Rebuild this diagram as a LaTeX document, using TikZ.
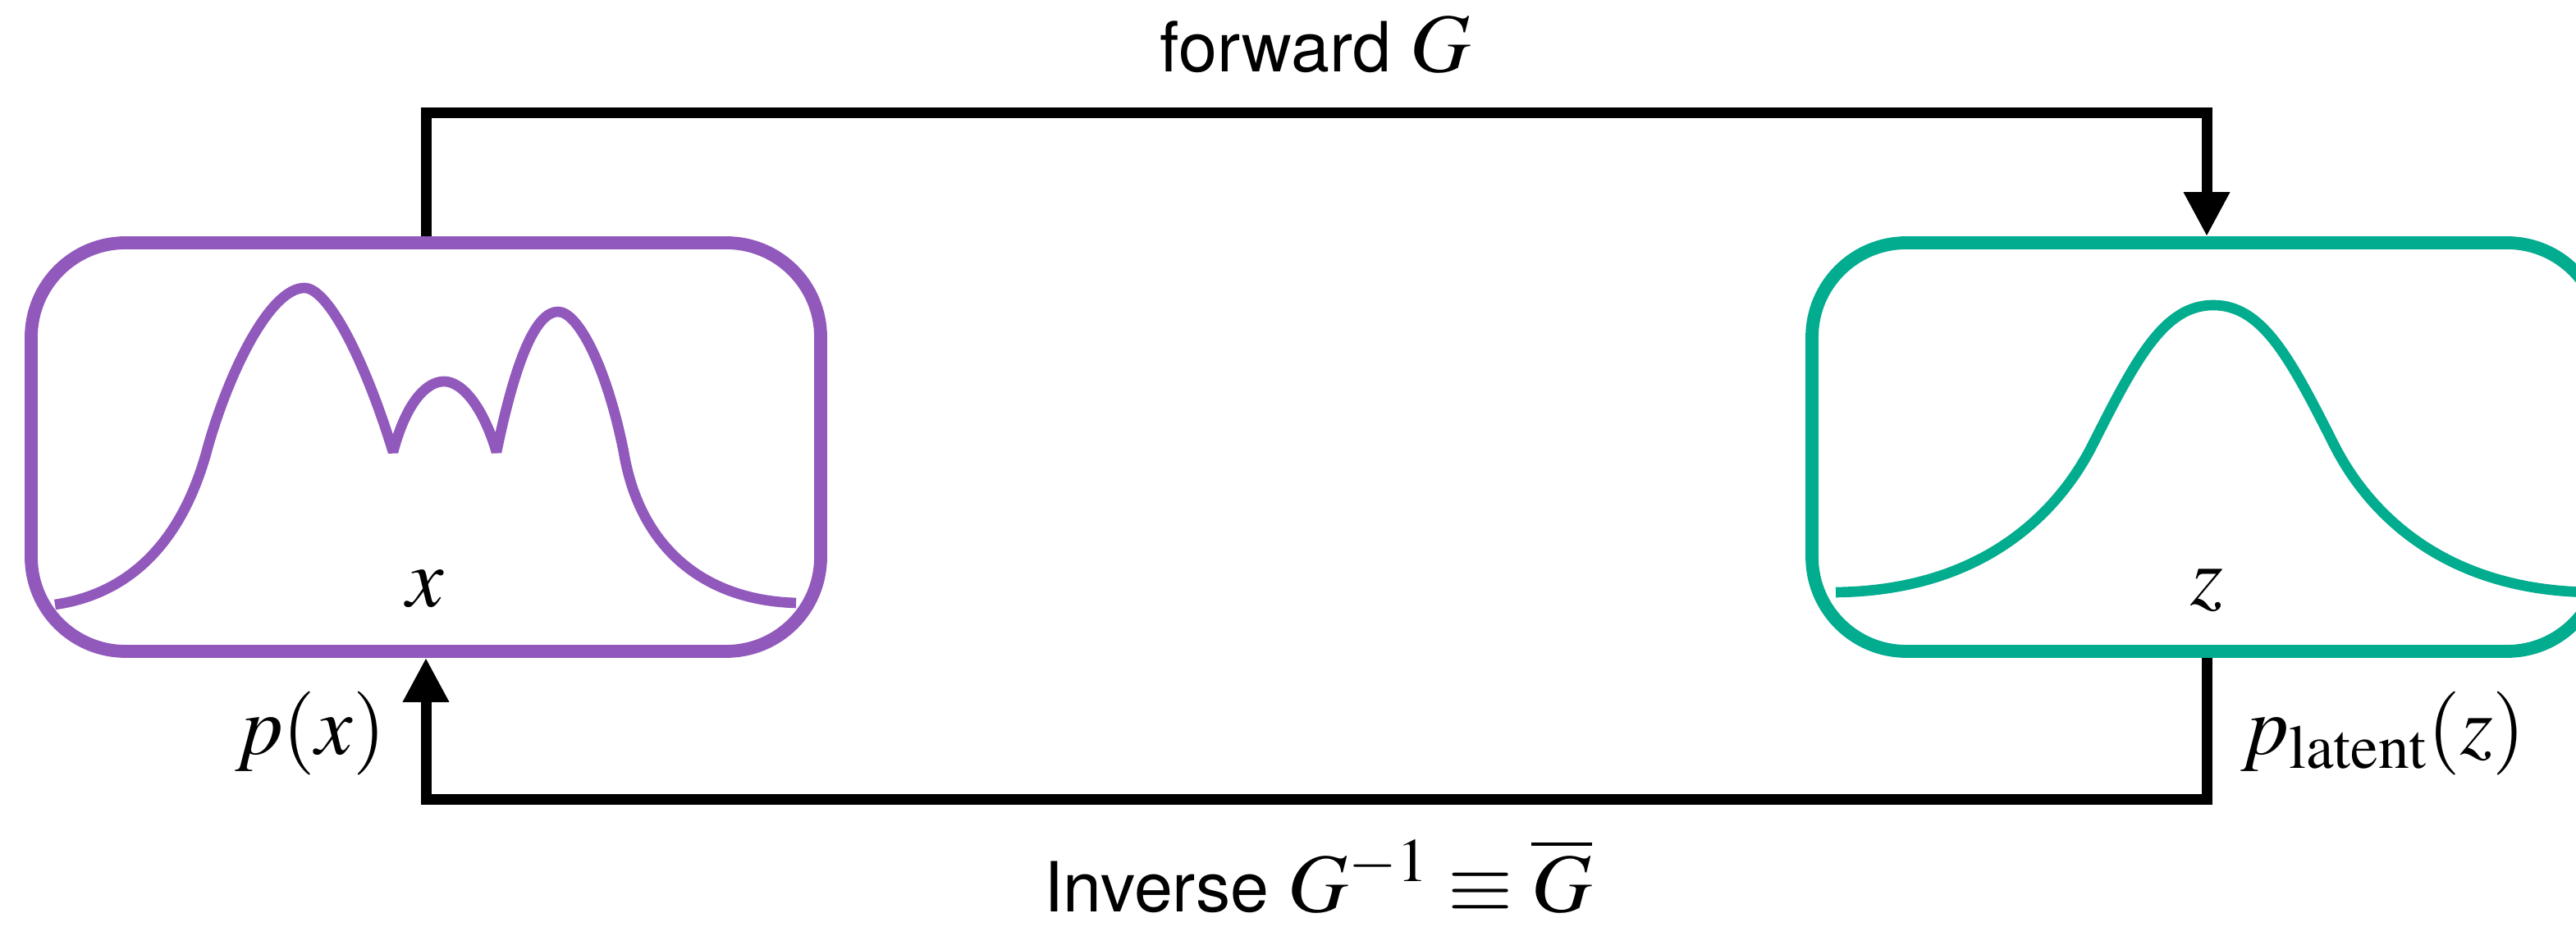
\documentclass[tikz,border=0pt]{standalone}
\usepackage{mathptmx}
\usepackage[no-math]{fontspec}
\setsansfont{TeX Gyre Heros}
\usetikzlibrary{arrows.meta}
\definecolor{datacol}{HTML}{9259BC}
\definecolor{latentcol}{HTML}{02AC8F}
\newcommand{\mth}[1]{{\fontsize{29}{34}\selectfont$#1$}}

\begin{document}
\begin{tikzpicture}[
  densbox/.style={rectangle, draw, line width=4.5pt, rounded corners=1.15cm,
                  minimum width=9.62cm, minimum height=4.98cm, inner sep=0pt},
  curve/.style={line width=3.6pt, line join=bevel},
  flow/.style={line width=3.7pt, -{Triangle[length=5.4mm, width=5.3mm]}},
  lbl/.style={font=\fontsize{24}{28}\selectfont\sffamily, inner sep=0pt},
  mlbl/.style={font=\fontsize{29}{34}\selectfont, inner sep=0pt},
]

\clip (0,0) rectangle (31.39,11.30);

% density boxes
\node[densbox, draw=datacol] (px) at (5.19,5.85) {};
\node[densbox, draw=latentcol] (pz) at (26.89,5.85) {};

% data density, several modes
\draw[curve, datacol] (0.67,3.93) .. controls (1.5,4.05) and (2.2,4.6) .. (2.53,5.84)
  .. controls (2.8,6.8) and (3.3,7.79) .. (3.71,7.79)
  .. controls (4.0,7.79) and (4.45,6.9) .. (4.79,5.79)
  .. controls (4.95,6.4) and (5.2,6.65) .. (5.41,6.65)
  .. controls (5.65,6.65) and (5.9,6.3) .. (6.05,5.79)
  .. controls (6.3,7.0) and (6.55,7.5) .. (6.80,7.50)
  .. controls (7.05,7.5) and (7.4,6.8) .. (7.60,5.79)
  .. controls (7.8,4.6) and (8.6,3.98) .. (9.70,3.95);

% latent density, one bump
\draw[curve, latentcol] (22.37,4.08) .. controls (24.17,4.10) and (25.08,5.06) .. (25.49,5.86)
  .. controls (26.03,6.93) and (26.37,7.58) .. (26.97,7.58)
  .. controls (27.57,7.58) and (27.91,6.93) .. (28.45,5.86)
  .. controls (28.86,5.06) and (29.77,4.10) .. (31.57,4.08);

\node[mlbl, anchor=base] (xlab) at (5.18,3.90) {$x$};
\node[mlbl, anchor=base] (zlab) at (26.89,3.92) {$z$};
\node[mlbl, anchor=base] (pxlab) at (3.78,2.10) {$p(x)$};
\node[mlbl, anchor=base] (pzlab) at (29.04,2.10) {$p_{\mathrm{latent}}(z)$};

% maps between the two
\draw[flow] (px.north) -- ++(0,1.51) -| (pz.north);
\draw[flow] (pz.south) -- ++(0,-1.73) -| (px.south);

\node[lbl, anchor=base] (fwd) at (16.03,10.42) {forward \mth{G}};
\node[lbl, anchor=base] (inv) at (16.06,0.18) {Inverse \mth{G^{-1}\equiv\overline{G}}};

\end{tikzpicture}
\end{document}
